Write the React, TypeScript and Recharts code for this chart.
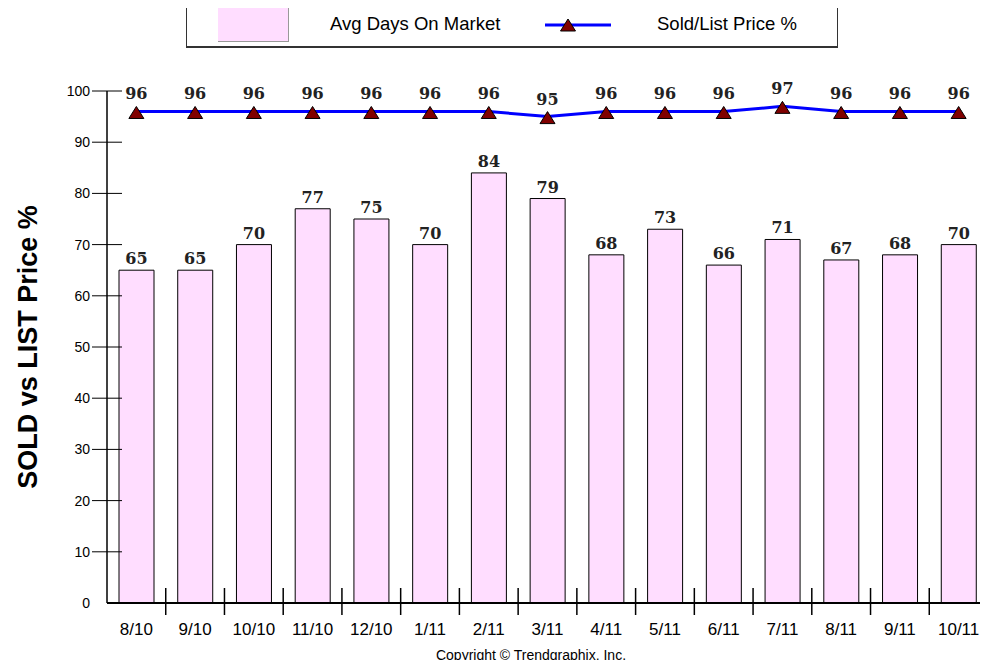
import { ComposedChart, Bar, Line, XAxis, YAxis, LabelList, Label } from "recharts";

const months = ["8/10", "9/10", "10/10", "11/10", "12/10", "1/11", "2/11", "3/11", "4/11", "5/11", "6/11", "7/11", "8/11", "9/11", "10/11"];
const avgDaysOnMarket = [65, 65, 70, 77, 75, 70, 84, 79, 68, 73, 66, 71, 67, 68, 70];
const soldListPct = [96, 96, 96, 96, 96, 96, 96, 95, 96, 96, 96, 97, 96, 96, 96];
const yTicks = [0, 10, 20, 30, 40, 50, 60, 70, 80, 90, 100];

const data = months.map((month, i) => ({
  month,
  days: avgDaysOnMarket[i],
  pct: soldListPct[i],
}));

const W = 988;
const H = 668;
const Y_AXIS_W = 107;
const BAND = (W - Y_AXIS_W) / months.length;

const SANS = "'Liberation Sans', Arial, sans-serif";
const SERIF = "'DejaVu Serif', serif";
const PINK = "#FFDDFF";
const BLUE = "#0000FF";
const MAROON = "#800000";

function YTick(props: any) {
  const { x, y, payload } = props;
  return (
    <g>
      <text x={x - 17} y={y} dy={5} textAnchor="end" fontSize={14} fill="#000" fontFamily={SANS}>
        {payload.value}
      </text>
      {payload.value !== 0 && <line x1={x - 15} x2={x + 15} y1={y} y2={y} stroke="#000" strokeWidth={1} />}
    </g>
  );
}

function XTick(props: any) {
  const { x, y, payload, index } = props;
  const edge = x + BAND / 2;
  return (
    <g>
      {index < months.length - 1 && <line x1={edge} x2={edge} y1={y - 15} y2={y + 12} stroke="#000" strokeWidth={1.5} />}
      <text x={x} y={y + 32} textAnchor="middle" fontSize={17} fill="#000" fontFamily={SANS}>
        {payload.value}
      </text>
    </g>
  );
}

function Triangle(props: any) {
  const { cx, cy } = props;
  if (cx == null || cy == null) return null;
  return (
    <polygon
      points={`${cx},${cy - 5} ${cx - 7.5},${cy + 7} ${cx + 7.5},${cy + 7}`}
      fill={MAROON}
      stroke="#000"
      strokeWidth={1}
    />
  );
}

function Legend() {
  return (
    <div
      style={{
        position: "absolute",
        left: 186,
        top: 4,
        width: 652,
        height: 44,
        border: "1px solid #333",
        borderBottomWidth: 2,
        boxSizing: "border-box",
        background: "#fff",
        fontFamily: SANS,
        fontSize: 18.5,
      }}
    >
      <div style={{ position: "absolute", left: 31, top: 3, width: 70, height: 33, background: PINK, borderRight: "1px solid #999", borderBottom: "1px solid #999" }} />
      <span style={{ position: "absolute", left: 143, top: 9, lineHeight: "20px" }}>Avg Days On Market</span>
      <svg style={{ position: "absolute", left: 356, top: 6 }} width={70} height={28}>
        <line x1={2} x2={68} y1={14} y2={14} stroke={BLUE} strokeWidth={3} />
        <polygon points="25,8 17.5,20 32.5,20" fill={MAROON} stroke="#000" strokeWidth={1} />
      </svg>
      <span style={{ position: "absolute", left: 470, top: 9, lineHeight: "20px" }}>Sold/List Price %</span>
    </div>
  );
}

export default function App() {
  return (
    <div style={{ position: "relative", width: W, height: H, margin: -8, background: "#fff", overflow: "hidden" }}>
      <ComposedChart width={W} height={H} data={data} margin={{ top: 91, right: 0, bottom: 25, left: 0 }}>
        <XAxis
          dataKey="month"
          height={40}
          axisLine={{ stroke: "#000", strokeWidth: 2 }}
          tickLine={false}
          tickSize={0}
          tickMargin={0}
          tick={<XTick />}
          interval={0}
        />
        <YAxis
          width={Y_AXIS_W}
          domain={[0, 100]}
          ticks={yTicks}
          axisLine={{ stroke: "#000", strokeWidth: 1.5 }}
          tickLine={false}
          tickSize={0}
          tickMargin={0}
          tick={<YTick />}
          interval={0}
        >
          <Label
            content={(p: any) => {
              const vb = p.viewBox || {};
              const cx = 28;
              const cy = (vb.y ?? 91) + (vb.height ?? 512) / 2;
              return (
                <text
                  x={cx}
                  y={cy}
                  transform={`rotate(-90 ${cx} ${cy})`}
                  textAnchor="middle"
                  dominantBaseline="central"
                  fontSize={27}
                  fontWeight="bold"
                  fontFamily={SANS}
                  fill="#000"
                >
                  SOLD vs LIST Price %
                </text>
              );
            }}
          />
        </YAxis>
        <Bar dataKey="days" barSize={35} fill={PINK} stroke="#000" strokeWidth={1} isAnimationActive={false}>
          <LabelList dataKey="days" position="top" offset={6} fontSize={16} fontWeight="bold" fontFamily={SERIF} fill="#222" />
        </Bar>
        <Line
          dataKey="pct"
          type="linear"
          stroke={BLUE}
          strokeWidth={3}
          dot={<Triangle />}
          activeDot={false}
          isAnimationActive={false}
        >
          <LabelList dataKey="pct" position="top" offset={12} fontSize={16} fontWeight="bold" fontFamily={SERIF} fill="#222" />
        </Line>
      </ComposedChart>
      <Legend />
      <div
        style={{
          position: "absolute",
          left: 0,
          width: 1062,
          top: 647,
          textAlign: "center",
          fontFamily: SANS,
          fontSize: 14,
          lineHeight: "16px",
          color: "#000",
        }}
      >
        Copyright © Trendgraphix, Inc.
      </div>
    </div>
  );
}
